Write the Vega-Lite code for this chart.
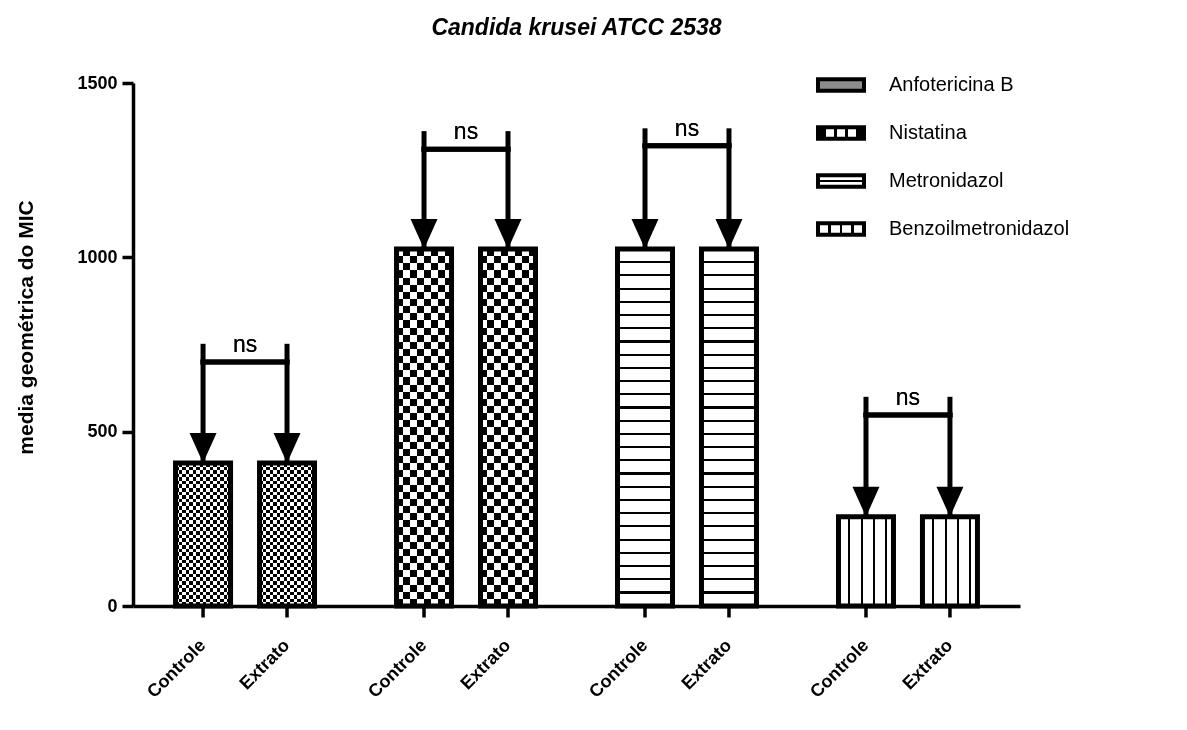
{
  "$schema": "https://vega.github.io/schema/vega-lite/v6.json",
  "width": 887,
  "height": 523,
  "autosize": "none",
  "padding": {"left": 133, "top": 83, "right": 167, "bottom": 124},
  "background": "white",
  "config": {"font": "Liberation Sans", "view": {"stroke": null}, "axis": {"grid": false}},
  "title": {"text": "Candida krusei ATCC 2538", "font": "Liberation Sans", "fontSize": 23, "fontWeight": "bold", "fontStyle": "italic", "color": "black", "frame": "group", "anchor": "middle", "offset": 20},
  "data": {"values": [
    {"farmaco": "Anfotericina B", "grupo": "Controle", "mic": 410, "topo": 752, "ns": 700},
    {"farmaco": "Anfotericina B", "grupo": "Extrato", "mic": 410, "topo": 752, "ns": 700},
    {"farmaco": "Nistatina", "grupo": "Controle", "mic": 1024, "topo": 1362, "ns": 1310},
    {"farmaco": "Nistatina", "grupo": "Extrato", "mic": 1024, "topo": 1362, "ns": 1310},
    {"farmaco": "Metronidazol", "grupo": "Controle", "mic": 1024, "topo": 1370, "ns": 1320},
    {"farmaco": "Metronidazol", "grupo": "Extrato", "mic": 1024, "topo": 1370, "ns": 1320},
    {"farmaco": "Benzoilmetronidazol", "grupo": "Controle", "mic": 256, "topo": 600, "ns": 548},
    {"farmaco": "Benzoilmetronidazol", "grupo": "Extrato", "mic": 256, "topo": 600, "ns": 548}
  ]},
  "layer": [
    {
      "transform": [{"filter": "datum.farmaco === 'Anfotericina B'"}],
      "mark": {"type": "bar", "stroke": null, "fill": {"gradient": "linear", "x1": 0, "y1": 0, "x2": 1, "y2": 0, "stops": [
        {"offset": 0, "color": "#000"}, {"offset": 0.0625, "color": "#000"}, {"offset": 0.0625, "color": "#fff"}, {"offset": 0.125, "color": "#fff"},
        {"offset": 0.125, "color": "#000"}, {"offset": 0.1875, "color": "#000"}, {"offset": 0.1875, "color": "#fff"}, {"offset": 0.25, "color": "#fff"},
        {"offset": 0.25, "color": "#000"}, {"offset": 0.3125, "color": "#000"}, {"offset": 0.3125, "color": "#fff"}, {"offset": 0.375, "color": "#fff"},
        {"offset": 0.375, "color": "#000"}, {"offset": 0.4375, "color": "#000"}, {"offset": 0.4375, "color": "#fff"}, {"offset": 0.5, "color": "#fff"},
        {"offset": 0.5, "color": "#000"}, {"offset": 0.5625, "color": "#000"}, {"offset": 0.5625, "color": "#fff"}, {"offset": 0.625, "color": "#fff"},
        {"offset": 0.625, "color": "#000"}, {"offset": 0.6875, "color": "#000"}, {"offset": 0.6875, "color": "#fff"}, {"offset": 0.75, "color": "#fff"},
        {"offset": 0.75, "color": "#000"}, {"offset": 0.8125, "color": "#000"}, {"offset": 0.8125, "color": "#fff"}, {"offset": 0.875, "color": "#fff"},
        {"offset": 0.875, "color": "#000"}, {"offset": 0.9375, "color": "#000"}, {"offset": 0.9375, "color": "#fff"}, {"offset": 1, "color": "#fff"}
      ]}},
      "encoding": {
        "x": {"field": "farmaco", "type": "nominal", "sort": null, "scale": {"domain": ["Anfotericina B", "Nistatina", "Metronidazol", "Benzoilmetronidazol"], "paddingInner": 0.24, "paddingOuter": 0.127}, "axis": {"labels": false, "ticks": false, "title": null, "domainWidth": 3.5, "domainColor": "black"}},
        "xOffset": {"field": "grupo", "type": "nominal", "scale": {"domain": ["Controle", "Extrato"], "paddingInner": 0.345, "paddingOuter": 0.1725}},
        "y": {"field": "mic", "type": "quantitative", "stack": null, "scale": {"domain": [0, 1500], "nice": false},
          "axis": {"title": "media geométrica do MIC", "values": [0, 500, 1000, 1500], "format": "d", "tickSize": 11, "tickWidth": 3.5, "tickColor": "black", "domainWidth": 3.5, "domainColor": "black", "labelFont": "Liberation Sans", "labelFontSize": 18, "labelFontWeight": "bold", "labelColor": "black", "labelPadding": 5, "titleFont": "Liberation Sans", "titleFontSize": 21, "titleFontWeight": "bold", "titleColor": "black", "titleX": -107, "titleY": 244, "titleBaseline": "middle", "titleAlign": "center", "titleAngle": -90}}
      }
    },
    {
      "transform": [{"filter": "datum.farmaco === 'Anfotericina B'"}],
      "mark": {"type": "bar", "stroke": null, "blend": "difference", "fill": {"gradient": "linear", "x1": 0, "y1": 0, "x2": 0, "y2": 1, "stops": [
        {"offset": 0, "color": "#fff"}, {"offset": 0.025, "color": "#fff"}, {"offset": 0.025, "color": "#000"}, {"offset": 0.05, "color": "#000"},
        {"offset": 0.05, "color": "#fff"}, {"offset": 0.075, "color": "#fff"}, {"offset": 0.075, "color": "#000"}, {"offset": 0.1, "color": "#000"},
        {"offset": 0.1, "color": "#fff"}, {"offset": 0.125, "color": "#fff"}, {"offset": 0.125, "color": "#000"}, {"offset": 0.15, "color": "#000"},
        {"offset": 0.15, "color": "#fff"}, {"offset": 0.175, "color": "#fff"}, {"offset": 0.175, "color": "#000"}, {"offset": 0.2, "color": "#000"},
        {"offset": 0.2, "color": "#fff"}, {"offset": 0.225, "color": "#fff"}, {"offset": 0.225, "color": "#000"}, {"offset": 0.25, "color": "#000"},
        {"offset": 0.25, "color": "#fff"}, {"offset": 0.275, "color": "#fff"}, {"offset": 0.275, "color": "#000"}, {"offset": 0.3, "color": "#000"},
        {"offset": 0.3, "color": "#fff"}, {"offset": 0.325, "color": "#fff"}, {"offset": 0.325, "color": "#000"}, {"offset": 0.35, "color": "#000"},
        {"offset": 0.35, "color": "#fff"}, {"offset": 0.375, "color": "#fff"}, {"offset": 0.375, "color": "#000"}, {"offset": 0.4, "color": "#000"},
        {"offset": 0.4, "color": "#fff"}, {"offset": 0.425, "color": "#fff"}, {"offset": 0.425, "color": "#000"}, {"offset": 0.45, "color": "#000"},
        {"offset": 0.45, "color": "#fff"}, {"offset": 0.475, "color": "#fff"}, {"offset": 0.475, "color": "#000"}, {"offset": 0.5, "color": "#000"},
        {"offset": 0.5, "color": "#fff"}, {"offset": 0.525, "color": "#fff"}, {"offset": 0.525, "color": "#000"}, {"offset": 0.55, "color": "#000"},
        {"offset": 0.55, "color": "#fff"}, {"offset": 0.575, "color": "#fff"}, {"offset": 0.575, "color": "#000"}, {"offset": 0.6, "color": "#000"},
        {"offset": 0.6, "color": "#fff"}, {"offset": 0.625, "color": "#fff"}, {"offset": 0.625, "color": "#000"}, {"offset": 0.65, "color": "#000"},
        {"offset": 0.65, "color": "#fff"}, {"offset": 0.675, "color": "#fff"}, {"offset": 0.675, "color": "#000"}, {"offset": 0.7, "color": "#000"},
        {"offset": 0.7, "color": "#fff"}, {"offset": 0.725, "color": "#fff"}, {"offset": 0.725, "color": "#000"}, {"offset": 0.75, "color": "#000"},
        {"offset": 0.75, "color": "#fff"}, {"offset": 0.775, "color": "#fff"}, {"offset": 0.775, "color": "#000"}, {"offset": 0.8, "color": "#000"},
        {"offset": 0.8, "color": "#fff"}, {"offset": 0.825, "color": "#fff"}, {"offset": 0.825, "color": "#000"}, {"offset": 0.85, "color": "#000"},
        {"offset": 0.85, "color": "#fff"}, {"offset": 0.875, "color": "#fff"}, {"offset": 0.875, "color": "#000"}, {"offset": 0.9, "color": "#000"},
        {"offset": 0.9, "color": "#fff"}, {"offset": 0.925, "color": "#fff"}, {"offset": 0.925, "color": "#000"}, {"offset": 0.95, "color": "#000"},
        {"offset": 0.95, "color": "#fff"}, {"offset": 0.975, "color": "#fff"}, {"offset": 0.975, "color": "#000"}, {"offset": 1, "color": "#000"}
      ]}},
      "encoding": {
        "x": {"field": "farmaco", "type": "nominal", "sort": null},
        "xOffset": {"field": "grupo", "type": "nominal"},
        "y": {"field": "mic", "type": "quantitative", "stack": null}
      }
    },
    {
      "transform": [{"filter": "datum.farmaco === 'Nistatina'"}],
      "mark": {"type": "bar", "stroke": null, "fill": {"gradient": "linear", "x1": 0, "y1": 0, "x2": 1, "y2": 0, "stops": [
        {"offset": 0, "color": "#000"}, {"offset": 0.125, "color": "#000"}, {"offset": 0.125, "color": "#fff"}, {"offset": 0.25, "color": "#fff"},
        {"offset": 0.25, "color": "#000"}, {"offset": 0.375, "color": "#000"}, {"offset": 0.375, "color": "#fff"}, {"offset": 0.5, "color": "#fff"},
        {"offset": 0.5, "color": "#000"}, {"offset": 0.625, "color": "#000"}, {"offset": 0.625, "color": "#fff"}, {"offset": 0.75, "color": "#fff"},
        {"offset": 0.75, "color": "#000"}, {"offset": 0.875, "color": "#000"}, {"offset": 0.875, "color": "#fff"}, {"offset": 1, "color": "#fff"}
      ]}},
      "encoding": {
        "x": {"field": "farmaco", "type": "nominal", "sort": null},
        "xOffset": {"field": "grupo", "type": "nominal"},
        "y": {"field": "mic", "type": "quantitative", "stack": null}
      }
    },
    {
      "transform": [{"filter": "datum.farmaco === 'Nistatina'"}],
      "mark": {"type": "bar", "stroke": null, "blend": "difference", "fill": {"gradient": "linear", "x1": 0, "y1": 0, "x2": 0, "y2": 1, "stops": [
        {"offset": 0, "color": "#fff"}, {"offset": 0.02, "color": "#fff"}, {"offset": 0.02, "color": "#000"}, {"offset": 0.04, "color": "#000"},
        {"offset": 0.04, "color": "#fff"}, {"offset": 0.06, "color": "#fff"}, {"offset": 0.06, "color": "#000"}, {"offset": 0.08, "color": "#000"},
        {"offset": 0.08, "color": "#fff"}, {"offset": 0.1, "color": "#fff"}, {"offset": 0.1, "color": "#000"}, {"offset": 0.12, "color": "#000"},
        {"offset": 0.12, "color": "#fff"}, {"offset": 0.14, "color": "#fff"}, {"offset": 0.14, "color": "#000"}, {"offset": 0.16, "color": "#000"},
        {"offset": 0.16, "color": "#fff"}, {"offset": 0.18, "color": "#fff"}, {"offset": 0.18, "color": "#000"}, {"offset": 0.2, "color": "#000"},
        {"offset": 0.2, "color": "#fff"}, {"offset": 0.22, "color": "#fff"}, {"offset": 0.22, "color": "#000"}, {"offset": 0.24, "color": "#000"},
        {"offset": 0.24, "color": "#fff"}, {"offset": 0.26, "color": "#fff"}, {"offset": 0.26, "color": "#000"}, {"offset": 0.28, "color": "#000"},
        {"offset": 0.28, "color": "#fff"}, {"offset": 0.3, "color": "#fff"}, {"offset": 0.3, "color": "#000"}, {"offset": 0.32, "color": "#000"},
        {"offset": 0.32, "color": "#fff"}, {"offset": 0.34, "color": "#fff"}, {"offset": 0.34, "color": "#000"}, {"offset": 0.36, "color": "#000"},
        {"offset": 0.36, "color": "#fff"}, {"offset": 0.38, "color": "#fff"}, {"offset": 0.38, "color": "#000"}, {"offset": 0.4, "color": "#000"},
        {"offset": 0.4, "color": "#fff"}, {"offset": 0.42, "color": "#fff"}, {"offset": 0.42, "color": "#000"}, {"offset": 0.44, "color": "#000"},
        {"offset": 0.44, "color": "#fff"}, {"offset": 0.46, "color": "#fff"}, {"offset": 0.46, "color": "#000"}, {"offset": 0.48, "color": "#000"},
        {"offset": 0.48, "color": "#fff"}, {"offset": 0.5, "color": "#fff"}, {"offset": 0.5, "color": "#000"}, {"offset": 0.52, "color": "#000"},
        {"offset": 0.52, "color": "#fff"}, {"offset": 0.54, "color": "#fff"}, {"offset": 0.54, "color": "#000"}, {"offset": 0.56, "color": "#000"},
        {"offset": 0.56, "color": "#fff"}, {"offset": 0.58, "color": "#fff"}, {"offset": 0.58, "color": "#000"}, {"offset": 0.6, "color": "#000"},
        {"offset": 0.6, "color": "#fff"}, {"offset": 0.62, "color": "#fff"}, {"offset": 0.62, "color": "#000"}, {"offset": 0.64, "color": "#000"},
        {"offset": 0.64, "color": "#fff"}, {"offset": 0.66, "color": "#fff"}, {"offset": 0.66, "color": "#000"}, {"offset": 0.68, "color": "#000"},
        {"offset": 0.68, "color": "#fff"}, {"offset": 0.7, "color": "#fff"}, {"offset": 0.7, "color": "#000"}, {"offset": 0.72, "color": "#000"},
        {"offset": 0.72, "color": "#fff"}, {"offset": 0.74, "color": "#fff"}, {"offset": 0.74, "color": "#000"}, {"offset": 0.76, "color": "#000"},
        {"offset": 0.76, "color": "#fff"}, {"offset": 0.78, "color": "#fff"}, {"offset": 0.78, "color": "#000"}, {"offset": 0.8, "color": "#000"},
        {"offset": 0.8, "color": "#fff"}, {"offset": 0.82, "color": "#fff"}, {"offset": 0.82, "color": "#000"}, {"offset": 0.84, "color": "#000"},
        {"offset": 0.84, "color": "#fff"}, {"offset": 0.86, "color": "#fff"}, {"offset": 0.86, "color": "#000"}, {"offset": 0.88, "color": "#000"},
        {"offset": 0.88, "color": "#fff"}, {"offset": 0.9, "color": "#fff"}, {"offset": 0.9, "color": "#000"}, {"offset": 0.92, "color": "#000"},
        {"offset": 0.92, "color": "#fff"}, {"offset": 0.94, "color": "#fff"}, {"offset": 0.94, "color": "#000"}, {"offset": 0.96, "color": "#000"},
        {"offset": 0.96, "color": "#fff"}, {"offset": 0.98, "color": "#fff"}, {"offset": 0.98, "color": "#000"}, {"offset": 1, "color": "#000"}
      ]}},
      "encoding": {
        "x": {"field": "farmaco", "type": "nominal", "sort": null},
        "xOffset": {"field": "grupo", "type": "nominal"},
        "y": {"field": "mic", "type": "quantitative", "stack": null}
      }
    },
    {
      "transform": [{"filter": "datum.farmaco === 'Metronidazol'"}],
      "mark": {"type": "bar", "stroke": null, "fill": {"gradient": "linear", "x1": 0, "y1": 0, "x2": 0, "y2": 1, "stops": [
        {"offset": 0, "color": "#fff"},
        {"offset": 0.034, "color": "#fff"}, {"offset": 0.034, "color": "#000"}, {"offset": 0.040, "color": "#000"}, {"offset": 0.040, "color": "#fff"},
        {"offset": 0.071, "color": "#fff"}, {"offset": 0.071, "color": "#000"}, {"offset": 0.077, "color": "#000"}, {"offset": 0.077, "color": "#fff"},
        {"offset": 0.108, "color": "#fff"}, {"offset": 0.108, "color": "#000"}, {"offset": 0.114, "color": "#000"}, {"offset": 0.114, "color": "#fff"},
        {"offset": 0.145, "color": "#fff"}, {"offset": 0.145, "color": "#000"}, {"offset": 0.151, "color": "#000"}, {"offset": 0.151, "color": "#fff"},
        {"offset": 0.182, "color": "#fff"}, {"offset": 0.182, "color": "#000"}, {"offset": 0.188, "color": "#000"}, {"offset": 0.188, "color": "#fff"},
        {"offset": 0.219, "color": "#fff"}, {"offset": 0.219, "color": "#000"}, {"offset": 0.225, "color": "#000"}, {"offset": 0.225, "color": "#fff"},
        {"offset": 0.256, "color": "#fff"}, {"offset": 0.256, "color": "#000"}, {"offset": 0.262, "color": "#000"}, {"offset": 0.262, "color": "#fff"},
        {"offset": 0.293, "color": "#fff"}, {"offset": 0.293, "color": "#000"}, {"offset": 0.299, "color": "#000"}, {"offset": 0.299, "color": "#fff"},
        {"offset": 0.330, "color": "#fff"}, {"offset": 0.330, "color": "#000"}, {"offset": 0.336, "color": "#000"}, {"offset": 0.336, "color": "#fff"},
        {"offset": 0.367, "color": "#fff"}, {"offset": 0.367, "color": "#000"}, {"offset": 0.373, "color": "#000"}, {"offset": 0.373, "color": "#fff"},
        {"offset": 0.404, "color": "#fff"}, {"offset": 0.404, "color": "#000"}, {"offset": 0.410, "color": "#000"}, {"offset": 0.410, "color": "#fff"},
        {"offset": 0.441, "color": "#fff"}, {"offset": 0.441, "color": "#000"}, {"offset": 0.447, "color": "#000"}, {"offset": 0.447, "color": "#fff"},
        {"offset": 0.478, "color": "#fff"}, {"offset": 0.478, "color": "#000"}, {"offset": 0.484, "color": "#000"}, {"offset": 0.484, "color": "#fff"},
        {"offset": 0.515, "color": "#fff"}, {"offset": 0.515, "color": "#000"}, {"offset": 0.521, "color": "#000"}, {"offset": 0.521, "color": "#fff"},
        {"offset": 0.552, "color": "#fff"}, {"offset": 0.552, "color": "#000"}, {"offset": 0.558, "color": "#000"}, {"offset": 0.558, "color": "#fff"},
        {"offset": 0.589, "color": "#fff"}, {"offset": 0.589, "color": "#000"}, {"offset": 0.595, "color": "#000"}, {"offset": 0.595, "color": "#fff"},
        {"offset": 0.626, "color": "#fff"}, {"offset": 0.626, "color": "#000"}, {"offset": 0.632, "color": "#000"}, {"offset": 0.632, "color": "#fff"},
        {"offset": 0.663, "color": "#fff"}, {"offset": 0.663, "color": "#000"}, {"offset": 0.669, "color": "#000"}, {"offset": 0.669, "color": "#fff"},
        {"offset": 0.700, "color": "#fff"}, {"offset": 0.700, "color": "#000"}, {"offset": 0.706, "color": "#000"}, {"offset": 0.706, "color": "#fff"},
        {"offset": 0.737, "color": "#fff"}, {"offset": 0.737, "color": "#000"}, {"offset": 0.743, "color": "#000"}, {"offset": 0.743, "color": "#fff"},
        {"offset": 0.774, "color": "#fff"}, {"offset": 0.774, "color": "#000"}, {"offset": 0.780, "color": "#000"}, {"offset": 0.780, "color": "#fff"},
        {"offset": 0.811, "color": "#fff"}, {"offset": 0.811, "color": "#000"}, {"offset": 0.817, "color": "#000"}, {"offset": 0.817, "color": "#fff"},
        {"offset": 0.848, "color": "#fff"}, {"offset": 0.848, "color": "#000"}, {"offset": 0.854, "color": "#000"}, {"offset": 0.854, "color": "#fff"},
        {"offset": 0.885, "color": "#fff"}, {"offset": 0.885, "color": "#000"}, {"offset": 0.891, "color": "#000"}, {"offset": 0.891, "color": "#fff"},
        {"offset": 0.922, "color": "#fff"}, {"offset": 0.922, "color": "#000"}, {"offset": 0.928, "color": "#000"}, {"offset": 0.928, "color": "#fff"},
        {"offset": 0.959, "color": "#fff"}, {"offset": 0.959, "color": "#000"}, {"offset": 0.965, "color": "#000"}, {"offset": 0.965, "color": "#fff"},
        {"offset": 1, "color": "#fff"}
      ]}},
      "encoding": {
        "x": {"field": "farmaco", "type": "nominal", "sort": null},
        "xOffset": {"field": "grupo", "type": "nominal"},
        "y": {"field": "mic", "type": "quantitative", "stack": null}
      }
    },
    {
      "transform": [{"filter": "datum.farmaco === 'Benzoilmetronidazol'"}],
      "mark": {"type": "bar", "stroke": null, "fill": {"gradient": "linear", "x1": 0, "y1": 0, "x2": 1, "y2": 0, "stops": [
        {"offset": 0, "color": "#fff"}, {"offset": 0.182, "color": "#fff"}, {"offset": 0.182, "color": "#000"}, {"offset": 0.218, "color": "#000"},
        {"offset": 0.218, "color": "#fff"}, {"offset": 0.402, "color": "#fff"}, {"offset": 0.402, "color": "#000"}, {"offset": 0.438, "color": "#000"},
        {"offset": 0.438, "color": "#fff"}, {"offset": 0.622, "color": "#fff"}, {"offset": 0.622, "color": "#000"}, {"offset": 0.658, "color": "#000"},
        {"offset": 0.658, "color": "#fff"}, {"offset": 0.842, "color": "#fff"}, {"offset": 0.842, "color": "#000"}, {"offset": 0.878, "color": "#000"},
        {"offset": 0.878, "color": "#fff"}, {"offset": 1, "color": "#fff"}
      ]}},
      "encoding": {
        "x": {"field": "farmaco", "type": "nominal", "sort": null},
        "xOffset": {"field": "grupo", "type": "nominal"},
        "y": {"field": "mic", "type": "quantitative", "stack": null}
      }
    },
    {
      "mark": {"type": "bar", "fill": "transparent", "stroke": "black", "strokeWidth": 5, "strokeJoin": "miter"},
      "encoding": {
        "x": {"field": "farmaco", "type": "nominal", "sort": null},
        "xOffset": {"field": "grupo", "type": "nominal"},
        "y": {"field": "mic", "type": "quantitative", "stack": null}
      }
    },
    {
      "mark": {"type": "rule", "strokeWidth": 5},
      "encoding": {
        "x": {"field": "farmaco", "type": "nominal", "sort": null},
        "xOffset": {"field": "grupo", "type": "nominal"},
        "y": {"field": "topo", "type": "quantitative"},
        "y2": {"field": "mic"},
        "stroke": {"field": "farmaco", "type": "nominal", "sort": null,
          "scale": {"domain": ["Anfotericina B", "Nistatina", "Metronidazol", "Benzoilmetronidazol"], "range": ["black", "black", "black", "black"]},
          "legend": {"title": null, "orient": "none", "legendX": 683, "legendY": -23,
            "symbolType": "M-1,-0.25L1,-0.25L1,0.25L-1,0.25Z", "symbolSize": 2116, "symbolStrokeWidth": 4, "symbolStrokeColor": "black",
            "symbolFillColor": {"expr": "datum.value === 'Anfotericina B' ? '#8c8c8c' : datum.value === 'Nistatina' ? {gradient: 'linear', x1: 0, y1: 0, x2: 1, y2: 0, stops: [{offset: 0, color: '#000'}, {offset: 0.18, color: '#000'}, {offset: 0.18, color: '#fff'}, {offset: 0.34, color: '#fff'}, {offset: 0.34, color: '#000'}, {offset: 0.42, color: '#000'}, {offset: 0.42, color: '#fff'}, {offset: 0.58, color: '#fff'}, {offset: 0.58, color: '#000'}, {offset: 0.66, color: '#000'}, {offset: 0.66, color: '#fff'}, {offset: 0.82, color: '#fff'}, {offset: 0.82, color: '#000'}, {offset: 1, color: '#000'}]} : datum.value === 'Metronidazol' ? {gradient: 'linear', x1: 0, y1: 0, x2: 0, y2: 1, stops: [{offset: 0, color: '#fff'}, {offset: 0.38, color: '#fff'}, {offset: 0.38, color: '#000'}, {offset: 0.62, color: '#000'}, {offset: 0.62, color: '#fff'}, {offset: 1, color: '#fff'}]} : {gradient: 'linear', x1: 0, y1: 0, x2: 1, y2: 0, stops: [{offset: 0, color: '#fff'}, {offset: 0.22, color: '#fff'}, {offset: 0.22, color: '#000'}, {offset: 0.28, color: '#000'}, {offset: 0.28, color: '#fff'}, {offset: 0.47, color: '#fff'}, {offset: 0.47, color: '#000'}, {offset: 0.53, color: '#000'}, {offset: 0.53, color: '#fff'}, {offset: 0.72, color: '#fff'}, {offset: 0.72, color: '#000'}, {offset: 0.78, color: '#000'}, {offset: 0.78, color: '#fff'}, {offset: 1, color: '#fff'}]}"},
            "labelFont": "Liberation Sans", "labelFontSize": 20, "labelColor": "black", "labelOffset": 23, "rowPadding": 9, "labelLimit": 400}
        }
      }
    },
    {
      "mark": {"type": "point", "shape": "M-0.9,-1L0.9,-1L0,1Z", "size": 900, "filled": true, "color": "black", "opacity": 1, "yOffset": -15},
      "encoding": {
        "x": {"field": "farmaco", "type": "nominal", "sort": null},
        "xOffset": {"field": "grupo", "type": "nominal"},
        "y": {"field": "mic", "type": "quantitative"}
      }
    },
    {
      "mark": {"type": "tick", "orient": "horizontal", "size": 89, "thickness": 5, "color": "black", "opacity": 1},
      "encoding": {
        "x": {"field": "farmaco", "type": "nominal", "sort": null},
        "y": {"field": "ns", "type": "quantitative"}
      }
    },
    {
      "mark": {"type": "text", "fontSize": 23, "font": "Liberation Sans", "color": "black", "baseline": "bottom", "align": "center", "yOffset": -5},
      "encoding": {
        "x": {"field": "farmaco", "type": "nominal", "sort": null},
        "y": {"field": "ns", "type": "quantitative"},
        "text": {"value": "ns"}
      }
    },
    {
      "mark": {"type": "tick", "orient": "vertical", "size": 11, "thickness": 3.5, "color": "black", "opacity": 1, "yOffset": 6},
      "encoding": {
        "x": {"field": "farmaco", "type": "nominal", "sort": null},
        "xOffset": {"field": "grupo", "type": "nominal"},
        "y": {"datum": 0, "type": "quantitative"}
      }
    },
    {
      "mark": {"type": "text", "fontSize": 18, "fontWeight": "bold", "font": "Liberation Sans", "color": "black", "angle": 315, "align": "right", "baseline": "middle", "yOffset": 37},
      "encoding": {
        "x": {"field": "farmaco", "type": "nominal", "sort": null},
        "xOffset": {"field": "grupo", "type": "nominal"},
        "y": {"datum": 0, "type": "quantitative"},
        "text": {"field": "grupo"}
      }
    }
  ]
}
